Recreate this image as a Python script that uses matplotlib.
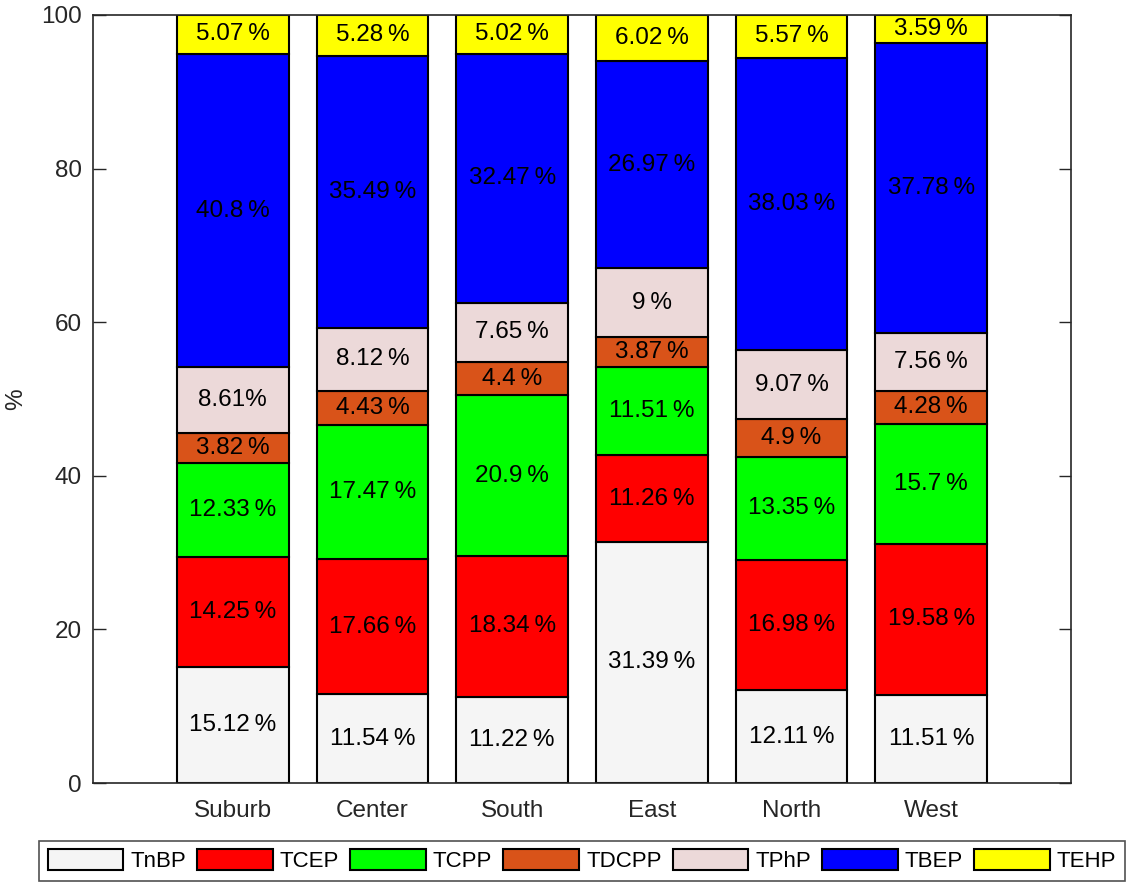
import matplotlib
matplotlib.use('Agg')
import matplotlib.pyplot as plt
import numpy as np

plt.rcParams['font.family'] = ['Liberation Sans', 'DejaVu Sans']

sites = ['Suburb', 'Center', 'South', 'East', 'North', 'West']
compounds = ['TnBP', 'TCEP', 'TCPP', 'TDCPP', 'TPhP', 'TBEP', 'TEHP']

tnbp = [15.12, 11.54, 11.22, 31.39, 12.11, 11.51]
tcep = [14.25, 17.66, 18.34, 11.26, 16.98, 19.58]
tcpp = [12.33, 17.47, 20.9, 11.51, 13.35, 15.7]
tdcpp = [3.82, 4.43, 4.4, 3.87, 4.9, 4.28]
tphp = [8.61, 8.12, 7.65, 9, 9.07, 7.56]
tbep = [40.8, 35.49, 32.47, 26.97, 38.03, 37.78]
tehp = [5.07, 5.28, 5.02, 6.02, 5.57, 3.59]

series = [tnbp, tcep, tcpp, tdcpp, tphp, tbep, tehp]
colors = ['#f5f5f5', '#ff0000', '#00ff00', '#d95319', '#ecd9d9', '#0000ff', '#ffff00']

fig = plt.figure(figsize=(11.28, 8.82), dpi=100)
ax = fig.add_axes([0.0824, 0.1122, 0.8671, 0.8708])

x = np.arange(1, len(sites) + 1)
bottom = np.zeros(len(sites))
for name, vals, c in zip(compounds, series, colors):
    vals = np.array(vals, dtype=float)
    ax.bar(x, vals, 0.8, bottom=bottom, color=c, edgecolor='black',
           linewidth=1.5, label=name)
    for xi, b, v in zip(x, bottom, vals):
        txt = f'{v:g}\u2009%'
        if name == 'TPhP' and xi == 1:
            txt = f'{v:g}%'
        ax.text(xi, b + v / 2, txt, ha='center', va='center', fontsize=17.5)
    bottom += vals

ax.set_xlim(0, 7)
ax.set_ylim(0, 100)
ax.set_xticks(x)
ax.set_xticklabels(sites)
ax.set_yticks([0, 20, 40, 60, 80, 100])
ax.tick_params(axis='y', direction='in', length=9, width=1, right=True,
               labelsize=17.5, pad=8, colors='#262626')
ax.tick_params(axis='x', length=0, labelsize=17.5, pad=12, colors='#262626')
for s in ax.spines.values():
    s.set_color('#262626')
    s.set_linewidth(1.2)
ax.set_ylabel('%', fontsize=17.5, labelpad=10, color='#262626')

leg = fig.legend(loc='upper center', bbox_to_anchor=(0.516, 0.0465),
                 bbox_transform=fig.transFigure, ncol=7, fontsize=16,
                 handlelength=3.4, handleheight=1.05, handletextpad=0.32,
                 columnspacing=0.5, borderpad=0.38, borderaxespad=0,
                 fancybox=False, frameon=True)
leg.get_frame().set_edgecolor('#262626')
leg.get_frame().set_linewidth(1.2)

plt.savefig('out.png', dpi=100)
